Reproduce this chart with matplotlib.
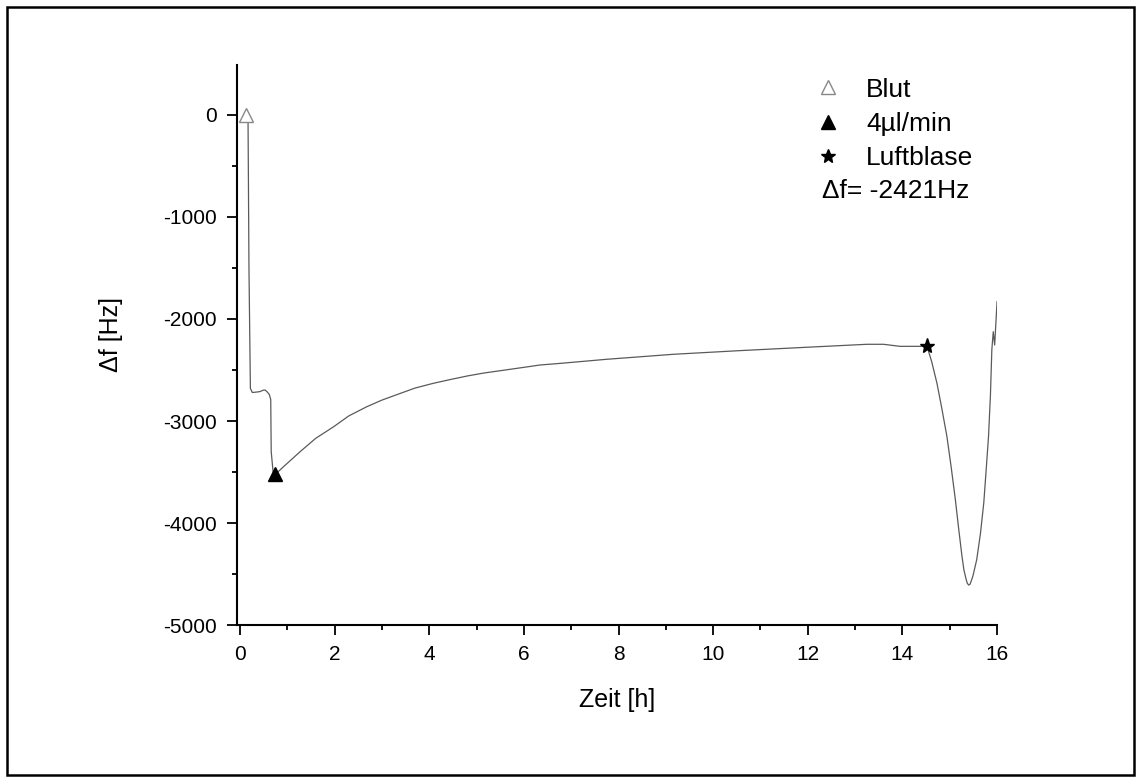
import matplotlib
matplotlib.use("Agg")
import matplotlib.pyplot as plt
from matplotlib.lines import Line2D
from matplotlib.patches import Rectangle
from matplotlib.ticker import MultipleLocator

plt.rcParams["font.family"] = ["Liberation Sans", "DejaVu Sans"]
plt.rcParams["axes.unicode_minus"] = False

# Messkurve (Zeit in h, Frequenzverschiebung in Hz)
zeit = [0.13, 0.17, 0.19, 0.22, 0.26, 0.32, 0.42, 0.49, 0.53, 0.57, 0.62,
        0.65, 0.66, 0.70, 0.74, 0.80, 0.92, 1.27, 1.60, 1.98, 2.30, 2.68,
        3.00, 3.39, 3.70, 4.09, 4.45, 4.80, 5.15, 5.50, 6.06, 6.34, 6.77,
        7.75, 9.16, 10.57, 11.98, 13.25, 13.60, 13.95, 14.52, 14.62, 14.73,
        14.83, 14.94, 15.03, 15.12, 15.19, 15.26, 15.30, 15.34, 15.37,
        15.40, 15.43, 15.49, 15.57, 15.65, 15.72, 15.77, 15.82, 15.86,
        15.89, 15.92, 15.95, 16.00]
delta_f = [0, -20, -1500, -2680, -2720, -2718, -2712, -2698, -2696, -2712,
           -2740, -2790, -3300, -3500, -3520, -3500, -3448, -3301, -3170,
           -3056, -2950, -2860, -2795, -2729, -2677, -2630, -2593, -2559,
           -2530, -2507, -2470, -2451, -2435, -2395, -2346, -2310, -2277,
           -2248, -2248, -2268, -2268, -2420, -2630, -2870, -3150, -3450,
           -3775, -4060, -4330, -4460, -4540, -4590, -4608, -4600, -4520,
           -4360, -4100, -3800, -3480, -3150, -2750, -2300, -2125, -2255,
           -1830]

# Ereignisse
blut = (0.13, 0)
fluss = (0.74, -3520)
luftblase = (14.52, -2268)

fig = plt.figure(figsize=(11.4, 7.81), dpi=100)
ax = fig.add_axes([0.2076, 0.1997, 0.8746 - 0.2076, 0.9168 - 0.1997])

ax.plot(zeit, delta_f, color="#5a5a5a", lw=0.9)
ax.plot(*blut, marker="^", ms=10, mfc="white", mec="#888888", mew=1.0, ls="none")
ax.plot(*fluss, marker="^", ms=10, color="black", ls="none")
ax.plot(*luftblase, marker="*", ms=11, color="black", ls="none")

ax.set_xlim(-0.07, 16)
ax.set_ylim(-5000, 490)
ax.xaxis.set_major_locator(MultipleLocator(2))
ax.xaxis.set_minor_locator(MultipleLocator(1))
ax.yaxis.set_major_locator(MultipleLocator(1000))
ax.yaxis.set_minor_locator(MultipleLocator(500))

for side in ["top", "right"]:
    ax.spines[side].set_visible(False)
for side in ["left", "bottom"]:
    ax.spines[side].set_linewidth(1.5)

ax.tick_params(which="major", direction="out", length=7.5, width=1.3, labelsize=15, pad=7)
ax.tick_params(which="minor", direction="out", length=3.8, width=1.3)

ax.set_xlabel("Zeit [h]", fontsize=18)
ax.xaxis.set_label_coords(0.5, -0.113)
ax.set_ylabel("\u0394f [Hz]", fontsize=18)
ax.yaxis.set_label_coords(-0.149, 0.518)

handles = [
    Line2D([], [], marker="^", ls="none", ms=10, mfc="white", mec="#888888"),
    Line2D([], [], marker="^", ls="none", ms=10, color="black"),
    Line2D([], [], marker="*", ls="none", ms=10, color="black"),
]
ax.legend(handles, ["Blut", "4\u00b5l/min", "Luftblase"], loc="upper left",
          bbox_to_anchor=(0.729, 1.02), frameon=False, fontsize=19,
          handlelength=1.0, handletextpad=0.94, labelspacing=0.39)
ax.text(0.770, 0.775, "\u0394f= -2421Hz", transform=ax.transAxes, fontsize=19,
        ha="left", va="center")

fig.patches.append(Rectangle((0.006, 0.008), 0.989, 0.983, transform=fig.transFigure,
                             fill=False, lw=1.8, edgecolor="black"))

fig.savefig("out.png", dpi=100)
